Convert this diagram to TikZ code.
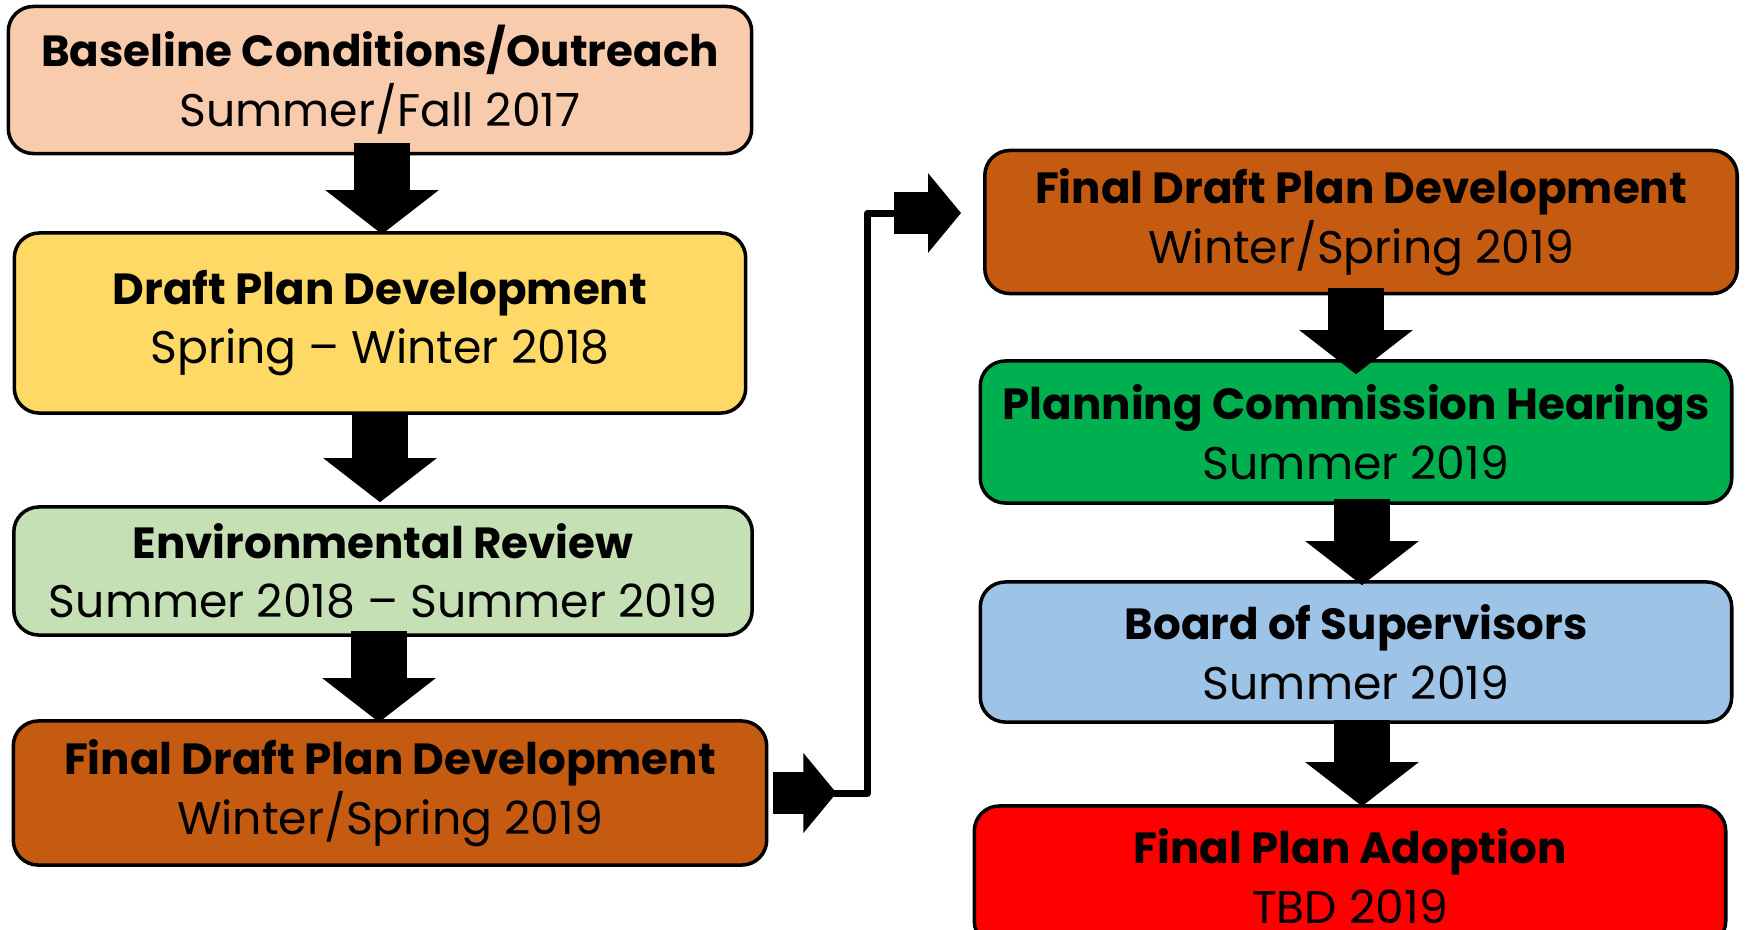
\documentclass[tikz,border=0pt]{standalone}
\usepackage{fontspec}
\setmainfont{Poppins}
\usepackage{xcolor}
\usetikzlibrary{arrows.meta,calc}
\definecolor{peach}{HTML}{F8CBAD}
\definecolor{sand}{HTML}{FFD966}
\definecolor{sage}{HTML}{C5E0B4}
\definecolor{rust}{HTML}{C55A11}
\definecolor{grass}{HTML}{00B050}
\definecolor{sky}{HTML}{9DC3E6}
\definecolor{scarlet}{HTML}{FF0000}
\newcommand{\stage}[2]{{\bfseries\fontsize{12.4}{17}\selectfont #1}\\#2}
\begin{document}
\begin{tikzpicture}[line cap=round,line join=round,x=0.01cm,y=-0.01cm,
    phase/.style={draw=black,line width=1pt,rounded corners=0.25cm,align=center,
        font=\fontsize{13}{17}\selectfont,inner sep=0pt},
    downarrow/.style={line width=0.56cm,line cap=butt,-{Triangle[length=0.44cm,width=1.11cm]}},
    sidearrow/.style={line width=0.42cm,line cap=butt,-{Triangle[length=0.33cm,width=0.78cm]}},
    elbow/.style={line width=2pt}]
    \useasboundingbox (0,0) rectangle (1746,929);
    % left column
    \node[phase,fill=peach,minimum width=7.43cm,minimum height=1.47cm] (base) at (380,80) {\stage{Baseline Conditions/Outreach}{Summer/Fall 2017}};
    \node[phase,fill=sand,minimum width=7.31cm,minimum height=1.80cm] (draft) at (380,323) {\stage{Draft Plan Development}{Spring -- Winter 2018}};
    \node[phase,fill=sage,minimum width=7.38cm,minimum height=1.28cm] (env) at (383,571) {\stage{Environmental Review}{Summer 2018 -- Summer 2019}};
    \node[phase,fill=rust,minimum width=7.53cm,minimum height=1.44cm] (fdpL) at (390,793) {\stage{Final Draft Plan Development}{Winter/Spring 2019}};
    % right column
    \node[phase,fill=rust,minimum width=7.52cm,minimum height=1.43cm] (fdpR) at (1361,222) {\stage{Final Draft Plan Development}{Winter/Spring 2019}};
    \node[phase,fill=grass,minimum width=7.51cm,minimum height=1.42cm] (pch) at (1356,432) {\stage{Planning Commission Hearings}{Summer 2019}};
    \node[phase,fill=sky,minimum width=7.51cm,minimum height=1.40cm] (bos) at (1356,652) {\stage{Board of Supervisors}{Summer 2019}};
    \node[phase,fill=scarlet,minimum width=7.51cm,minimum height=1.40cm] (fpa) at (1350,876) {\stage{Final Plan Adoption}{TBD 2019}};
    % block arrows down
    \draw[downarrow] ($(base.south)+(2,-12)$) -- ($(base.south |- draft.north)+(2,3)$);
    \draw[downarrow] ($(draft.south)+(0,-2)$) -- ($(draft.south |- env.north)+(0,-3)$);
    \draw[downarrow] ($(env.south)+(-4,-6)$) -- ($(env.south |- fdpL.north)+(-4,3)$);
    \draw[downarrow] ($(fdpR.south)+(-5,-7)$) -- ($(fdpR.south |- pch.north)+(-5,15)$);
    \draw[downarrow] ($(pch.south)+(6,-6)$) -- ($(pch.south |- bos.north)+(6,5)$);
    \draw[downarrow] ($(bos.south)+(6,-4)$) -- ($(bos.south |- fpa.north)+(6,2)$);
    % jump to right column
    \coordinate (bend) at ($(fdpL.east)+(99,0)$);
    \draw[elbow] ($(fdpL.east)+(66,0)$) -- (bend) |- ($(fdpR.west)+(-90,-9)$);
    \draw[sidearrow] ($(fdpL.east)+(5,0)$) -- ($(fdpL.east)+(68,0)$);
    \draw[sidearrow] ($(fdpR.west)+(-89,-9)$) -- ($(fdpR.west)+(-22,-9)$);
\end{tikzpicture}
\end{document}
